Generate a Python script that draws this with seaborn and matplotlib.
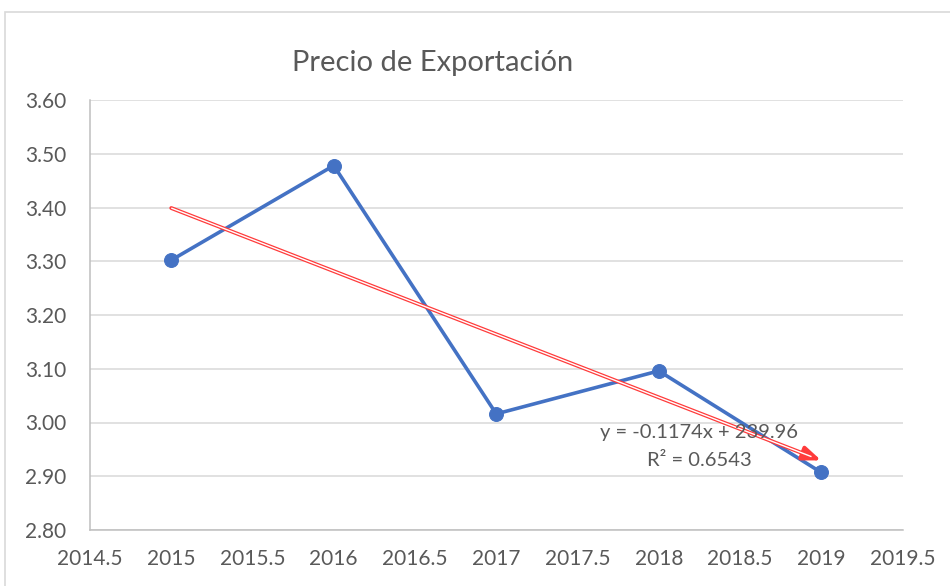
import numpy as np
import pandas as pd
import matplotlib
matplotlib.use("Agg")
import matplotlib.pyplot as plt
from matplotlib.patches import Rectangle
import seaborn as sns

# data
years = [2015, 2016, 2017, 2018, 2019]
precio = [3.302, 3.478, 3.016, 3.096, 2.907]
x_ticks = [2014.5, 2015, 2015.5, 2016, 2016.5, 2017, 2017.5, 2018, 2018.5, 2019, 2019.5]
y_ticks = [2.80, 2.90, 3.00, 3.10, 3.20, 3.30, 3.40, 3.50, 3.60]
trend_slope = -0.1174
trend_icept = 239.96
r2 = 0.6543
title = "Precio de Exportación"

sns.set_theme(style="white")
plt.rcParams['font.family'] = ['Lato', 'DejaVu Sans']

W, H = 950, 586
fig = plt.figure(figsize=(W / 100, H / 100), dpi=100)
fig.patch.set_facecolor("white")

# outer chart border
fig.patches.append(Rectangle((5 / W, -0.05), 1.2, 1 - 12 / H + 0.05, transform=fig.transFigure,
                             fill=False, edgecolor="#d9d9d9", linewidth=1.2))

ax = fig.add_axes([90 / W, 1 - 530 / H, (902.5 - 90) / W, 430 / H])

df = pd.DataFrame({"year": years, "precio": precio})
sns.lineplot(data=df, x="year", y="precio", ax=ax, color="#4472C4", linewidth=2.6,
             marker="o", markersize=10, markeredgecolor="#4472C4", zorder=3)

# linear trend line (double red line with arrow)
tx = np.array([years[0], years[-1]], dtype=float)
ty = trend_slope * tx + trend_icept
ax.annotate("", xy=(tx[1], ty[1]), xytext=(tx[0], ty[0]),
            arrowprops=dict(arrowstyle="-|>,head_length=0.9,head_width=0.35", color="#ff3b3b",
                            lw=2.8, shrinkA=0, shrinkB=0),
            zorder=4)
ax.plot(tx - np.array([0, 0.06]), ty - np.array([0, trend_slope * 0.06]), color="white",
        linewidth=1.0, zorder=5, solid_capstyle="butt")

ax.text(2018.25, 2.981, f"y = {trend_slope}x + {trend_icept}", ha="center", va="center",
        fontsize=14.5, color="#595959", zorder=6)
ax.text(2018.25, 2.929, f"R² = {r2}", ha="center", va="center",
        fontsize=14.5, color="#595959", zorder=6)

ax.set_xlim(2014.5, 2019.5)
ax.set_ylim(2.80, 3.60)
ax.set_xticks(x_ticks)
ax.set_xticklabels([f"{t:g}" for t in x_ticks])
ax.set_yticks(y_ticks)
ax.set_yticklabels([f"{t:.2f}" for t in y_ticks])
ax.grid(axis="y", color="#d9d9d9", linewidth=1.1)
ax.set_axisbelow(True)
ax.set_xlabel("")
ax.set_ylabel("")
for s in ["top", "right"]:
    ax.spines[s].set_visible(False)
for s in ["left", "bottom"]:
    ax.spines[s].set_color("#bfbfbf")
    ax.spines[s].set_linewidth(1.1)
ax.tick_params(axis="both", length=0, labelsize=15, colors="#595959")
ax.tick_params(axis="x", pad=14)
ax.tick_params(axis="y", pad=17)

fig.text(433 / W, 1 - 63 / H, title, ha="center", va="center", fontsize=21, color="#595959")

fig.savefig("out.png", dpi=100)
